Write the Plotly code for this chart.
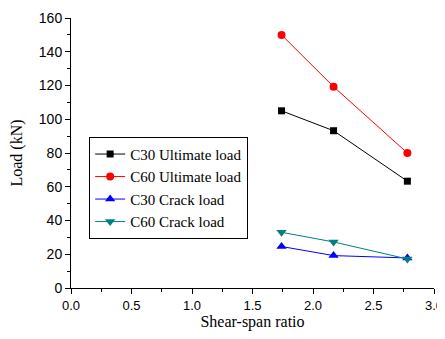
import plotly.graph_objects as go

ratio = [1.74, 2.17, 2.78]
c30_ult = [105.0, 93.2, 63.3]
c60_ult = [150.0, 119.3, 80.0]
c30_crack = [24.6, 19.2, 17.8]
c60_crack = [33.0, 27.3, 17.2]

series = [
    ("C30 Ultimate load", c30_ult, "black", "square", 7),
    ("C60 Ultimate load", c60_ult, "red", "circle", 8),
    ("C30 Crack load", c30_crack, "blue", "triangle-up", 9),
    ("C60 Crack load", c60_crack, "teal", "triangle-down", 9),
]

serif = "Liberation Serif, Times New Roman, serif"
sans = "Liberation Sans, Arial, sans-serif"

fig = go.Figure()
for name, ys, col, sym, sz in series:
    fig.add_trace(go.Scatter(
        x=ratio, y=ys, name=name, mode="lines+markers",
        line=dict(color=col, width=1),
        marker=dict(symbol=sym, size=sz, color=col),
    ))

# page has an 8px body margin, so the figure is offset by (8, 8)
fig.update_layout(
    width=437, height=323,
    margin=dict(l=63, r=11, t=10, b=43, autoexpand=False),
    paper_bgcolor="white", plot_bgcolor="white",
    showlegend=True,
    legend=dict(
        x=0.05, y=0.56, xanchor="left", yanchor="top",
        bordercolor="black", borderwidth=1, bgcolor="white",
        font=dict(family=serif, size=15, color="black"),
        tracegroupgap=0, itemwidth=30,
    ),
    xaxis=dict(
        range=[0, 3.0], dtick=0.5, tickformat=".1f",
        showgrid=False, zeroline=False, automargin=False,
        showline=True, linecolor="black", linewidth=1,
        ticks="outside", ticklen=5, tickcolor="black",
        minor=dict(ticks="outside", ticklen=3, dtick=0.25, tickcolor="black"),
        tickfont=dict(family=sans, size=13, color="black"),
        title=dict(text="Shear-span ratio", standoff=15,
                   font=dict(family=serif, size=16, color="black")),
    ),
    yaxis=dict(
        range=[0, 160], dtick=20,
        showgrid=False, zeroline=False, automargin=False,
        showline=True, linecolor="black", linewidth=1,
        ticks="outside", ticklen=5, tickcolor="black",
        minor=dict(ticks="outside", ticklen=3, dtick=10, tickcolor="black"),
        tickfont=dict(family=sans, size=14, color="black"),
        title=dict(text="Load (kN)", standoff=12,
                   font=dict(family=serif, size=16, color="black")),
    ),
)

fig.write_html("out.html")
